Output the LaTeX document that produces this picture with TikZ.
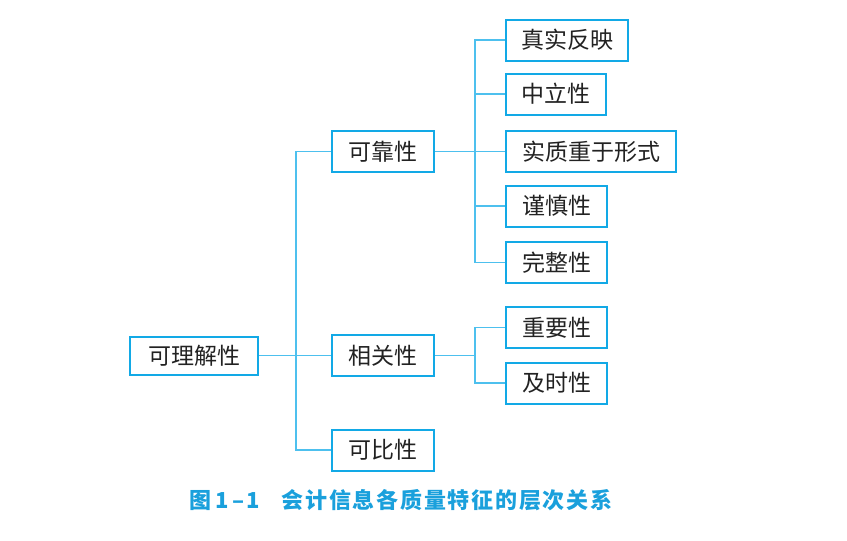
\documentclass[tikz,border=0pt]{standalone}
\usepackage{fontspec}
\newfontfamily\cjk{Noto Sans CJK SC}
\newfontfamily\cjkcap{Noto Sans CJK SC}[LetterSpace=8]
\definecolor{boxblue}{HTML}{12A9E6}
\definecolor{lineblue}{HTML}{4DC0EE}
\definecolor{capblue}{HTML}{1AA0DC}
\definecolor{txt}{HTML}{222222}
\begin{document}
\begin{tikzpicture}[x=1pt,y=-1pt,
  box/.style={draw=boxblue,line width=2pt,fill=white,text=txt,inner sep=0pt,
    minimum height=41pt,font=\cjk\fontsize{23}{26}\selectfont},
  conn/.style={draw=lineblue,line width=1.2pt}]
\useasboundingbox (0,0) rectangle (847,541);
\node[box,minimum width=128pt,minimum height=38pt] (a) at (194,355.5) {可理解性};
\node[box,minimum width=102pt] (b) at (383,151.5) {可靠性};
\node[box,minimum width=102pt] (c) at (383,355.5) {相关性};
\node[box,minimum width=102pt] (d) at (383,450) {可比性};
\node[box,minimum width=122pt] (e1) at (567,40) {真实反映};
\node[box,minimum width=100pt] (e2) at (556,94) {中立性};
\node[box,minimum width=170pt] (e3) at (591,151.5) {实质重于形式};
\node[box,minimum width=101pt] (e4) at (556.5,206) {谨慎性};
\node[box,minimum width=101pt] (e5) at (556.5,262.5) {完整性};
\node[box,minimum width=101pt] (f1) at (556.5,327.5) {重要性};
\node[box,minimum width=101pt] (f2) at (556.5,383) {及时性};
\coordinate (s1) at (296,0);
\coordinate (s2) at (475,0);
\draw[conn] (b.west) -- (b.west -| s1) -- (d.west -| s1) -- (d.west);
\draw[conn] (a.east) -- (c.west);
\draw[conn] (e1.west) -- (e1.west -| s2) -- (e5.west -| s2) -- (e5.west);
\draw[conn] (e2.west) -- (e2.west -| s2);
\draw[conn] (e4.west) -- (e4.west -| s2);
\draw[conn] (b.east) -- (e3.west);
\draw[conn] (f1.west) -- (f1.west -| s2) -- (f2.west -| s2) -- (f2.west);
\draw[conn] (c.east) -- (c.east -| s2);
\node[text=capblue,font=\cjkcap\bfseries\fontsize{22}{26}\selectfont,inner sep=0pt] (cap) at (401,500) {图\,1\,–1\hspace{1em}会计信息各质量特征的层次关系};
\end{tikzpicture}
\end{document}
